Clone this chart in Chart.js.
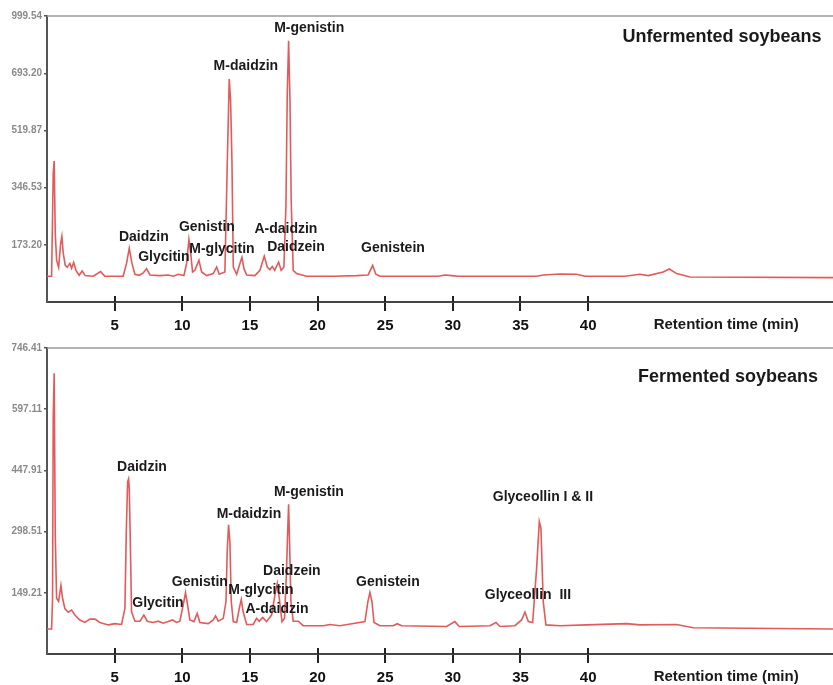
<!DOCTYPE html>
<html>
<head>
<meta charset="utf-8">
<script src="https://cdn.jsdelivr.net/npm/chart.js@4.4.1/dist/chart.umd.min.js"></script>
<style>
  html, body { margin: 0; padding: 0; background: #fff; }
  #wrap { position: relative; width: 833px; height: 685px; background: #fff; overflow: hidden; }
  canvas { position: absolute; left: 0; }
</style>
</head>
<body>
<div id="wrap">
  <canvas id="c1" width="833" height="340" style="top:0px"></canvas>
  <canvas id="c2" width="833" height="353" style="top:332px"></canvas>
</div>
<script>
// ---------- Data ----------
// Unfermented soybeans: retention time (min) and detector signal
const timeUnf = [0, 0.34, 0.46, 0.53, 0.61, 0.71, 0.86, 1.01, 1.10, 1.20, 1.35, 1.49, 1.69, 1.82, 1.97, 2.14, 2.38, 2.60, 2.82, 3.42,
  3.96, 4.28, 5.63, 5.88, 6.08, 6.28, 6.50, 6.82, 7.11, 7.36, 7.61, 8.35, 8.96, 9.33, 9.70, 10.12, 10.32, 10.49, 10.62, 10.76,
  10.93, 11.23, 11.43, 11.80, 12.29, 12.54, 12.73, 13.15, 13.32, 13.47, 13.57, 13.67, 13.77, 14.02, 14.26, 14.41, 14.56, 14.76, 15.37, 15.74,
  16.06, 16.28, 16.48, 16.65, 16.83, 17.12, 17.31, 17.51, 17.66, 17.76, 17.86, 17.96, 18.05, 18.20, 18.45, 19.19, 21.16, 22.89, 23.74, 24.07,
  24.31, 24.61, 28.92, 29.42, 29.91, 30.40, 36.19, 36.68, 37.92, 39.15, 39.77, 42.72, 43.83, 44.44, 45.55, 46.00, 46.54, 47.53, 58.1];
const signalUnf = [78, 78, 390, 427, 208, 127, 105, 178, 199, 148, 111, 105, 117, 102, 120, 96, 81, 94, 80, 78,
  92, 78, 78, 117, 163, 117, 84, 81, 88, 101, 82, 80, 82, 78, 84, 80, 117, 189, 148, 91,
  96, 127, 91, 80, 86, 106, 84, 91, 410, 676, 612, 430, 106, 84, 117, 135, 101, 82, 80, 96,
  139, 106, 98, 108, 96, 121, 96, 106, 288, 632, 792, 612, 309, 96, 86, 78, 78, 80, 82, 111,
  84, 78, 78, 82, 80, 78, 78, 82, 85, 84, 78, 78, 84, 80, 91, 100, 86, 76, 74];

// Fermented soybeans
const timeFer = [0, 0.34, 0.41, 0.46, 0.53, 0.61, 0.71, 0.86, 1.03, 1.15, 1.32, 1.57, 1.82, 2.06, 2.43, 2.80, 3.17, 3.54, 3.91, 4.53,
  5.02, 5.51, 5.76, 5.86, 5.96, 6.03, 6.08, 6.15, 6.25, 6.50, 6.87, 7.16, 7.41, 7.85, 8.22, 8.59, 8.96, 9.28, 9.58, 9.82,
  10.07, 10.24, 10.39, 10.56, 10.86, 11.10, 11.30, 11.92, 12.29, 12.46, 12.66, 13.03, 13.23, 13.32, 13.42, 13.52, 13.62, 13.77, 14.02, 14.21,
  14.36, 14.50, 14.76, 15.24, 15.49, 15.69, 15.94, 16.23, 16.60, 16.85, 17.02, 17.17, 17.37, 17.56, 17.71, 17.79, 17.86, 17.93, 18.03, 18.20,
  18.57, 18.94, 20.42, 20.91, 21.65, 22.76, 23.50, 23.72, 23.87, 24.02, 24.17, 24.61, 25.59, 25.89, 26.21, 29.54, 30.15, 30.47, 32.74, 33.19,
  33.48, 34.59, 35.08, 35.33, 35.58, 35.90, 36.19, 36.39, 36.51, 36.68, 36.88, 37.92, 39.89, 42.85, 43.83, 46.54, 47.77, 58.1];
const signalFer = [61, 61, 136, 575, 685, 290, 136, 128, 167, 136, 111, 102, 107, 95, 83, 77, 85, 85, 77, 71,
  74, 72, 111, 298, 420, 427, 404, 290, 103, 80, 80, 95, 80, 77, 80, 75, 79, 83, 77, 80,
  120, 150, 120, 83, 79, 99, 77, 74, 83, 93, 80, 87, 128, 250, 315, 274, 128, 79, 77, 111,
  133, 103, 72, 72, 87, 80, 89, 79, 95, 144, 172, 136, 79, 87, 209, 298, 365, 274, 128, 80,
  80, 69, 69, 72, 69, 75, 79, 128, 150, 128, 77, 69, 69, 74, 69, 67, 79, 67, 69, 77,
  67, 69, 83, 102, 79, 77, 209, 323, 307, 128, 71, 69, 71, 74, 71, 72, 64, 61];

// Peak labels: name, retention time of label centre, signal of label centre
const peakNamesUnf = ['M-genistin', 'M-daidzin', 'Daidzin', 'Glycitin', 'Genistin', 'M-glycitin', 'A-daidzin', 'Daidzein', 'Genistein'];
const peakTimesUnf = [19.38, 14.70, 7.16, 8.64, 11.82, 12.93, 17.66, 18.40, 25.57];
const peakValsUnf  = [830, 715, 196, 136, 227, 160, 221, 166, 163];

const peakNamesFer = ['Daidzin', 'M-genistin', 'M-daidzin', 'Daidzein', 'Genistin', 'M-glycitin', 'Glycitin', 'A-daidzin', 'Genistein', 'Glyceollin I & II', 'Glyceollin  III'];
const peakTimesFer = [7.02, 19.36, 14.93, 18.10, 11.30, 15.81, 8.20, 17.00, 25.20, 36.66, 35.55];
const peakValsFer  = [456, 395, 341, 202, 176, 156, 124, 110, 176, 383, 144];

const panelTitles = ['Unfermented soybeans', 'Fermented soybeans'];
const panelTitleTimes = [49.89, 50.34];
const panelTitleVals = [803, 676];

// Axis ticks
const xTickValues = [5, 10, 15, 20, 25, 30, 35, 40];
const xMax = 58.1;
const xTitle = 'Retention time (min)';
const xTitleTime = 50.2;

const yTickValuesUnf = [173.20, 346.53, 519.87, 693.20, 866.87];
const yTickLabelsUnf = ['173.20', '346.53', '519.87', '693.20', '999.54'];
const yMaxUnf = 866.87;
const yTickValuesFer = [149.21, 298.51, 447.91, 597.11, 746.41];
const yTickLabelsFer = ['149.21', '298.51', '447.91', '597.11', '746.41'];
const yMaxFer = 746.41;

// ---------- Drawing ----------
const FONT = '"Liberation Sans", Arial, Helvetica, sans-serif';
const LINE_COLOR = '#e25a5a';

function makeChart(canvasId, times, signal, yTicks, yLabels, yMax, names, nTimes, nVals, title, titleT, titleV, xAxisHeight) {
  const points = times.map((t, i) => ({ x: t, y: signal[i] }));
  const annot = {
    id: 'annot_' + canvasId,
    afterDraw(chart) {
      const { ctx, chartArea, scales } = chart;
      const xs = scales.x, ys = scales.y;
      ctx.save();
      // top frame line
      ctx.strokeStyle = '#9a9a9a';
      ctx.lineWidth = 1.5;
      ctx.beginPath();
      ctx.moveTo(chartArea.left, chartArea.top);
      ctx.lineTo(chartArea.right, chartArea.top);
      ctx.stroke();
      // inner part of x ticks
      ctx.strokeStyle = '#222';
      ctx.lineWidth = 2;
      xs.ticks.forEach(tk => {
        const px = Math.round(xs.getPixelForValue(tk.value));
        ctx.beginPath();
        ctx.moveTo(px, chartArea.bottom - 6);
        ctx.lineTo(px, chartArea.bottom);
        ctx.stroke();
      });
      // peak labels
      ctx.fillStyle = '#1a1a1a';
      ctx.textAlign = 'center';
      ctx.textBaseline = 'middle';
      ctx.font = 'bold 14px ' + FONT;
      names.forEach((n, i) => {
        ctx.fillText(n, xs.getPixelForValue(nTimes[i]), ys.getPixelForValue(nVals[i]));
      });
      // panel title
      ctx.font = 'bold 18px ' + FONT;
      ctx.fillText(title, xs.getPixelForValue(titleT), ys.getPixelForValue(titleV));
      // x axis title
      ctx.font = 'bold 15px ' + FONT;
      ctx.fillText(xTitle, xs.getPixelForValue(xTitleTime), chartArea.bottom + 23);
      ctx.restore();
    }
  };
  return new Chart(document.getElementById(canvasId), {
    type: 'line',
    data: {
      datasets: [{
        data: points,
        borderColor: LINE_COLOR,
        borderWidth: 1.6,
        pointRadius: 0,
        tension: 0,
        fill: false
      }]
    },
    options: {
      responsive: false,
      animation: false,
      layout: { padding: { top: 16, left: 0, right: 0, bottom: 0 } },
      plugins: { legend: { display: false }, tooltip: { enabled: false } },
      scales: {
        x: {
          type: 'linear',
          min: 0,
          max: xMax,
          afterBuildTicks: s => { s.ticks = xTickValues.map(v => ({ value: v })); },
          afterFit: s => { s.height = xAxisHeight; },
          grid: { drawOnChartArea: false, drawTicks: true, tickLength: 9, color: '#222', lineWidth: 2 },
          border: { color: '#444', width: 2 },
          ticks: {
            autoSkip: false, maxRotation: 0, padding: 6, color: '#111',
            font: { family: FONT, size: 15, weight: 'bold' },
            callback: v => String(v)
          }
        },
        y: {
          type: 'linear',
          min: 0,
          max: yMax,
          afterBuildTicks: s => { s.ticks = yTicks.map(v => ({ value: v })); },
          afterFit: s => { s.width = 47; },
          grid: { drawOnChartArea: false, drawTicks: true, tickLength: 3, color: '#555', lineWidth: 1.5 },
          border: { color: '#555', width: 2 },
          ticks: {
            padding: 2, color: '#8a8a8a',
            font: { family: FONT, size: 10, weight: 'bold' },
            callback: (v, i) => yLabels[i]
          }
        }
      }
    },
    plugins: [annot]
  });
}

makeChart('c1', timeUnf, signalUnf, yTickValuesUnf, yTickLabelsUnf, yMaxUnf,
  peakNamesUnf, peakTimesUnf, peakValsUnf, panelTitles[0], panelTitleTimes[0], panelTitleVals[0], 38);
makeChart('c2', timeFer, signalFer, yTickValuesFer, yTickLabelsFer, yMaxFer,
  peakNamesFer, peakTimesFer, peakValsFer, panelTitles[1], panelTitleTimes[1], panelTitleVals[1], 31);
</script>
</body>
</html>
